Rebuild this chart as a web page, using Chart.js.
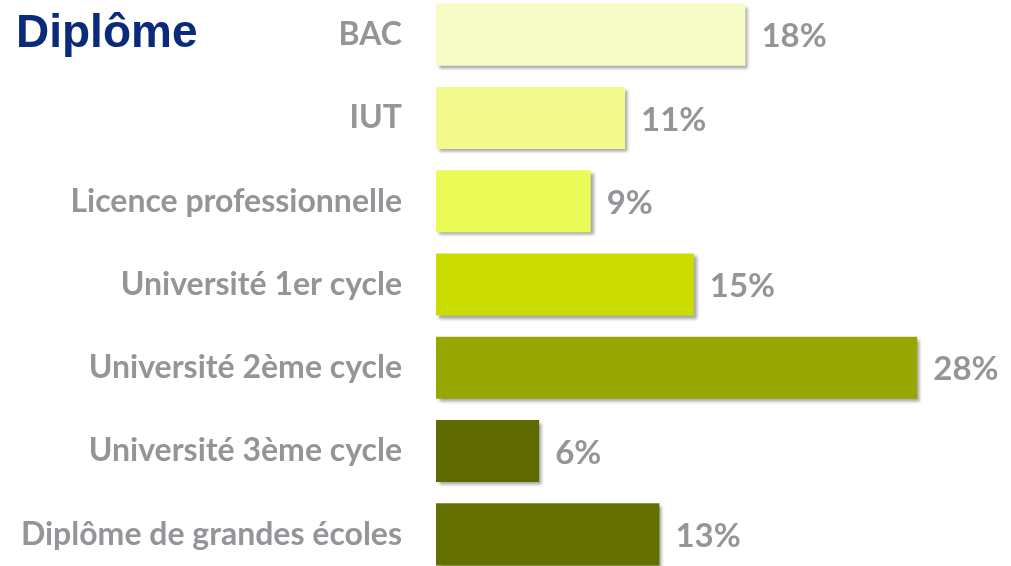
<!DOCTYPE html>
<html><head><meta charset="utf-8">
<script src="https://cdn.jsdelivr.net/npm/chart.js@4.4.0/dist/chart.umd.min.js"></script>
<style>
html,body{margin:0;padding:0;background:#fff;overflow:hidden;}
#wrap{position:relative;width:1011px;height:566px;overflow:hidden;}
#title{position:absolute;left:16px;top:4px;font-family:"Liberation Sans",Arial,sans-serif;font-weight:bold;font-size:46px;color:#0a2a7a;}
canvas{position:absolute;left:0;top:-7px;}
</style></head><body>
<div id="wrap"><canvas id="c" width="1011" height="583"></canvas><div id="title">Diplôme</div></div>
<script>
const categories = ["BAC","IUT","Licence professionnelle","Université 1er cycle","Université 2ème cycle","Université 3ème cycle","Diplôme de grandes écoles"];
const values = [18,11,9,15,28,6,13];
const barColors = ["#f7fcc6","#f2fa8c","#ebfb57","#cbdd00","#98a602","#5f6b00","#647000"];
const labelFont = "Lato, 'Open Sans', sans-serif";

const shadowPlugin = {
  id:'shadow',
  beforeDatasetsDraw(chart){const c=chart.ctx;c.save();c.shadowColor='rgba(0,0,0,0.35)';c.shadowOffsetX=3;c.shadowOffsetY=3;c.shadowBlur=3;},
  afterDatasetsDraw(chart){chart.ctx.restore();
    const c=chart.ctx;const meta=chart.getDatasetMeta(0);
    c.save();c.font="bold 33px "+labelFont;c.fillStyle="#939598";c.textBaseline="middle";c.textAlign="left";
    meta.data.forEach((b,i)=>{c.fillText(values[i]+"%", b.x+16, b.y+2);});
    c.restore();}
};

new Chart(document.getElementById('c'),{
  type:'bar',
  data:{labels:categories,datasets:[{data:values,backgroundColor:barColors,barPercentage:1,categoryPercentage:0.745,borderWidth:0,clip:false}]},
  options:{indexAxis:'y',responsive:false,animation:false,
    layout:{padding:{top:0,bottom:0,right:25,left:0}},
    plugins:{legend:{display:false},tooltip:{enabled:false}},
    scales:{
      x:{display:false,min:0,max:32},
      y:{offset:true,grid:{display:false,drawTicks:false},border:{display:false},
         ticks:{font:{family:labelFont,weight:'bold',size:32},color:'#939598',padding:34},
         afterFit(s){s.width=436;s.paddingTop=0;s.paddingBottom=0;}}
    }},
  plugins:[shadowPlugin]
});
</script></body></html>
